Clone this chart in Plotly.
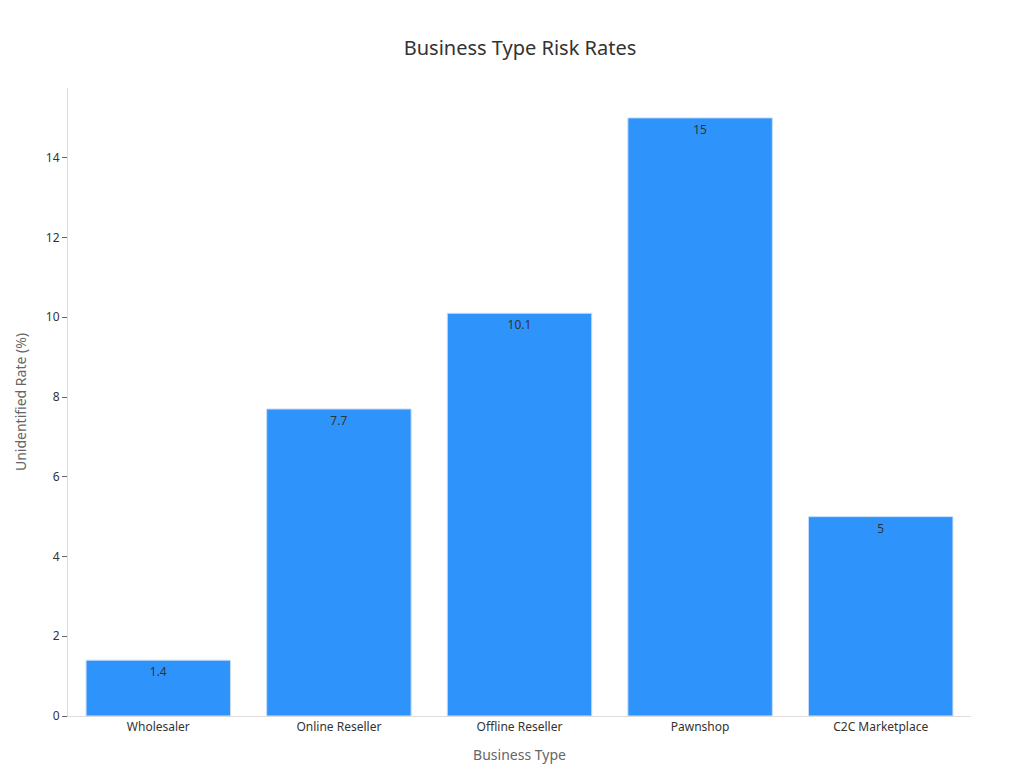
import plotly.graph_objects as go

business_types = ["Wholesaler", "Online Reseller", "Offline Reseller", "Pawnshop", "C2C Marketplace"]
unidentified_rate = [1.4, 7.7, 10.1, 15, 5]

fig = go.Figure(go.Bar(
    x=business_types,
    y=unidentified_rate,
    text=[str(v) for v in unidentified_rate],
    textposition="inside",
    insidetextanchor="end",
    textfont=dict(color="#333333", size=12),
    marker=dict(color="#2E93FA", line=dict(color="#c8defa", width=1)),
    width=0.8,
))

fig.update_layout(
    width=1024, height=768,
    title=dict(text="Business Type Risk Rates", x=0.5, y=0.957, xanchor="center",
               font=dict(size=20, color="#333333")),
    font=dict(family="Noto Sans, DejaVu Sans, sans-serif", size=12, color="#333333"),
    paper_bgcolor="white", plot_bgcolor="white",
    margin=dict(l=60, r=61, t=80, b=60),
    showlegend=False,
    xaxis=dict(title=dict(text="Business Type", font=dict(size=14, color="#666666")),
               showline=True, linecolor="#dddddd", ticks="", showgrid=False),
    yaxis=dict(title=dict(text="Unidentified Rate (%)", font=dict(size=14, color="#666666")),
               range=[0, 15.75], dtick=2, showline=True, linecolor="#dddddd",
               ticks="outside", tickcolor="#666666", ticklen=5, showgrid=False, zeroline=False),
)

fig.write_html("out.html")
